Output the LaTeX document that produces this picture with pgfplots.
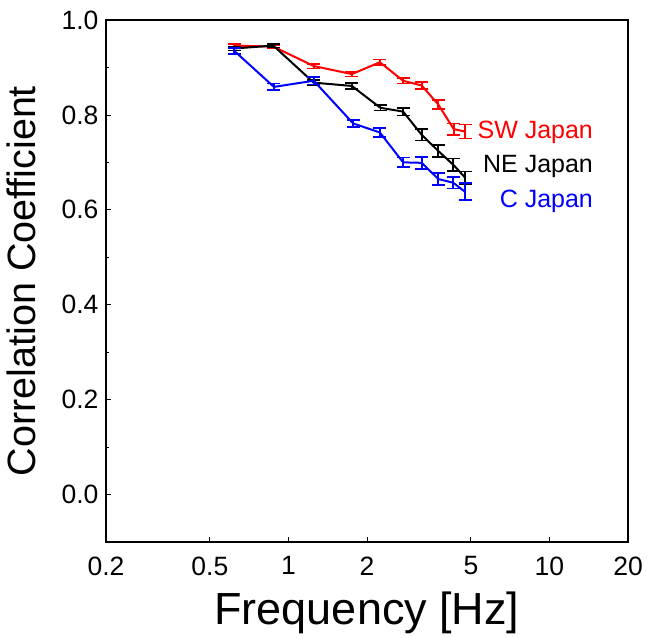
\documentclass[border=0pt]{standalone}
\usepackage{fontspec}
\setmainfont{Liberation Sans}
\usepackage{pgfplots}
\pgfplotsset{compat=1.18}
\begin{document}
\begin{tikzpicture}
\begin{axis}[
  scale only axis,
  width=522pt, height=522pt,
  xmode=log,
  xmin=0.2, xmax=20,
  ymin=-0.1, ymax=1.0,
  xtick={0.2,0.5,1,2,5,10,20},
  xticklabels={0.2,0.5,1,2,5,10,20},
  minor xtick={},
  ytick={0,0.2,0.4,0.6,0.8,1.0},
  minor ytick={0.1,0.3,0.5,0.7,0.9},
  yticklabel style={xshift=-4pt, /pgf/number format/.cd, fixed, fixed zerofill, precision=1},
  /pgf/number format/assume math mode=true,
  tick pos=left,
  tick align=inside,
  major tick length=5pt,
  minor tick length=3pt,
  tick style={black, line width=0.8pt},
  axis line style={line width=1.8pt},
  ticklabel style={font=\fontsize{26.5}{30}\selectfont},
  xticklabel style={yshift=-11pt},
  xlabel={Frequency [Hz]},
  ylabel={Correlation Coefficient},
  xlabel style={font=\fontsize{45}{50}\selectfont, yshift=-10pt},
  ylabel style={font=\fontsize{39.5}{44}\selectfont, yshift=19pt},
  every axis plot/.append style={line width=2pt, mark=none},
  error bars/error bar style={line width=1.7pt},
  error bars/error mark options={rotate=90, mark size=6.5pt, line width=1.7pt},
]
\addplot[red, error bars/.cd, y dir=both, y explicit] coordinates {
(0.62,0.946) +- (0,0.004)
(0.875,0.944) +- (0,0.004)
(1.25,0.903) +- (0,0.005)
(1.75,0.886) +- (0,0.005)
(2.24,0.911) +- (0,0.006)
(2.75,0.872) +- (0,0.006)
(3.24,0.862) +- (0,0.007)
(3.75,0.822) +- (0,0.010)
(4.3,0.770) +- (0,0.012)
(4.75,0.765) +- (0,0.015)
};
\addplot[black, error bars/.cd, y dir=both, y explicit] coordinates {
(0.62,0.940) +- (0,0.004)
(0.875,0.946) +- (0,0.004)
(1.25,0.868) +- (0,0.006)
(1.75,0.861) +- (0,0.006)
(2.25,0.815) +- (0,0.006)
(2.75,0.807) +- (0,0.008)
(3.24,0.758) +- (0,0.012)
(3.75,0.724) +- (0,0.012)
(4.28,0.695) +- (0,0.013)
(4.75,0.668) +- (0,0.013)
};
\addplot[blue, error bars/.cd, y dir=both, y explicit] coordinates {
(0.62,0.935) +- (0,0.006)
(0.88,0.859) +- (0,0.007)
(1.25,0.872) +- (0,0.008)
(1.77,0.782) +- (0,0.008)
(2.24,0.763) +- (0,0.010)
(2.75,0.700) +- (0,0.010)
(3.24,0.699) +- (0,0.013)
(3.75,0.665) +- (0,0.012)
(4.28,0.657) +- (0,0.012)
(4.75,0.638) +- (0,0.018)
};
\node[anchor=base east, inner sep=0pt, text=red, font=\fontsize{25}{28}\selectfont] at (axis cs:14.7,0.751) {SW Japan};
\node[anchor=base east, inner sep=0pt, text=black, font=\fontsize{25}{28}\selectfont] at (axis cs:14.7,0.678) {NE Japan};
\node[anchor=base east, inner sep=0pt, text=blue, font=\fontsize{25}{28}\selectfont] at (axis cs:14.7,0.604) {C Japan};
\end{axis}
\pgfresetboundingbox
\path[use as bounding box] (-106pt,-95pt) rectangle (541pt,542pt);
\end{tikzpicture}
\end{document}
